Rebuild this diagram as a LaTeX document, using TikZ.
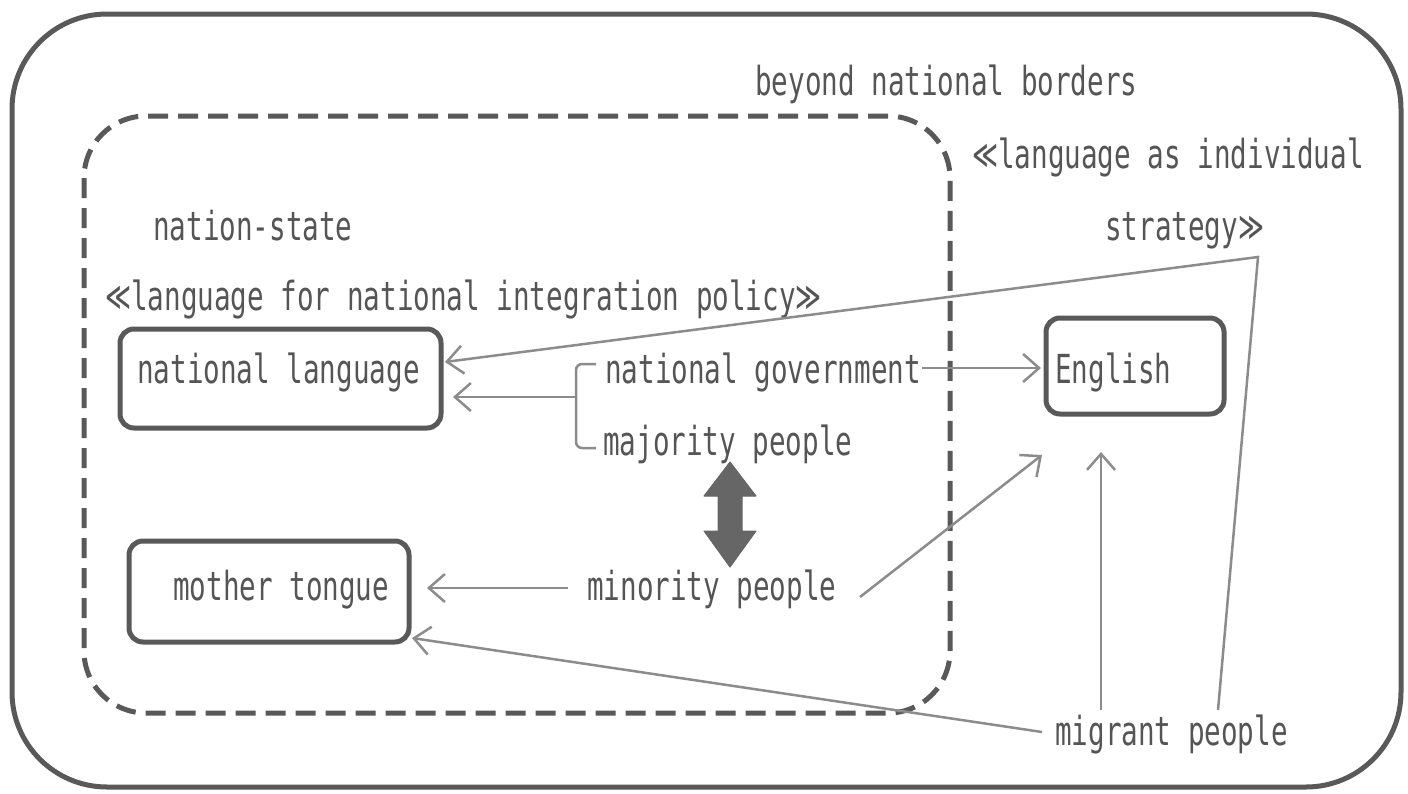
\documentclass[tikz,border=0pt]{standalone}
\usepackage{fontspec}
\newfontfamily\lblfont[FakeStretch=0.69]{DejaVu Sans Mono}
\newfontfamily\symbfont[FakeStretch=0.62]{DejaVu Sans}
\newcommand{\oll}{{\symbfont ≪}}
\newcommand{\ogg}{{\symbfont ≫}}
\usetikzlibrary{arrows.meta}
\definecolor{boxc}{HTML}{595959}
\definecolor{arrc}{HTML}{8C8C8C}
\definecolor{txtc}{HTML}{555555}
\definecolor{dblc}{HTML}{666666}
\begin{document}
\begin{tikzpicture}[x=1pt,y=-1pt,
  lbl/.style={font={\lblfont\fontsize{40}{44}\selectfont}, text=txtc, inner sep=0pt, anchor=base west},
  box/.style={draw=boxc, line width=5pt, rounded corners=14pt, inner sep=0pt},
  arr/.style={draw=arrc, line width=2.5pt, -{Straight Barb[length=16pt,width=28pt]}},
  brk/.style={draw=arrc, line width=2.5pt, rounded corners=6pt},
  frame/.style={draw=boxc, line width=5pt, rounded corners=95pt},
  dframe/.style={draw=boxc, line width=5pt, rounded corners=62pt, dash pattern=on 20pt off 10pt},
  dbl/.style={fill=dblc, draw=dblc, line width=1pt, line join=round}]
\useasboundingbox (0,0) rectangle (1408,793);
\fill[white] (0,0) rectangle (1408,793);
% frames
\draw[frame] (12,14) rectangle (1401,787);
\draw[dframe] (84,116) rectangle (950,713);
% boxes
\node[box, minimum width=321pt, minimum height=99pt] (natlang) at (280.5,378.5) {};
\node[box, minimum width=178pt, minimum height=96pt] (english) at (1135,366) {};
\node[box, minimum width=280pt, minimum height=101pt] (mother) at (269,591.5) {};
% texts
\node[lbl] (beyond) at (755,95) {beyond national borders};
\node[lbl] (indiv1) at (972,168) {\oll language as individual};
\node[lbl] (indiv2) at (1105,240) {strategy\ogg};
\node[lbl] (nstate) at (153,240) {nation-state};
\node[lbl] (policy) at (105,310) {\oll language for national integration policy\ogg};
\node[lbl] (natlangt) at (137,383) {national language};
\node[lbl] (englisht) at (1055,383) {English};
\node[lbl] (mothert) at (173,600) {mother tongue};
\node[lbl] (natgov) at (605,383) {national government};
\node[lbl] (major) at (603,455) {majority people};
\node[lbl] (minor) at (587,600) {minority people};
\node[lbl] (migrant) at (1055,745) {migrant people};
% connector points
\coordinate (bt) at (596,364);
\coordinate (bb) at (596,448);
\coordinate (bm) at (576,397);
\coordinate (natlangtip) at (453,397);
\coordinate (govend) at (922,368);
\coordinate (engin) at (1041,368);
\coordinate (minorL) at (568,588);
\coordinate (motherR) at (427,588);
\coordinate (minorR) at (860,597);
\coordinate (engSW) at (1042,455);
\coordinate (migUp) at (1101,710);
\coordinate (engS) at (1101,452);
\coordinate (migL) at (1042,732);
\coordinate (motherSE) at (412,638);
\coordinate (migR) at (1218,710);
\coordinate (corner) at (1258,257);
\coordinate (natlangE) at (445,362);
% bracket
\draw[brk] (bt) -- (576,364) -- (576,448) -- (bb);
\draw[arr] (bm) -- (natlangtip);
% arrows
\draw[arr] (govend) -- (engin);
\draw[arr] (minorL) -- (motherR);
\draw[arr] (minorR) -- (engSW);
\draw[arr] (migUp) -- (engS);
\draw[arr] (migL) -- (motherSE);
\draw[arr] (migR) -- (corner) -- (natlangE);
% double arrow
\draw[dbl] (730,462) -- (756,496) -- (742,496) -- (742,531) -- (756,531) -- (730,567)
  -- (704,531) -- (718,531) -- (718,496) -- (704,496) -- cycle;
\end{tikzpicture}
\end{document}
